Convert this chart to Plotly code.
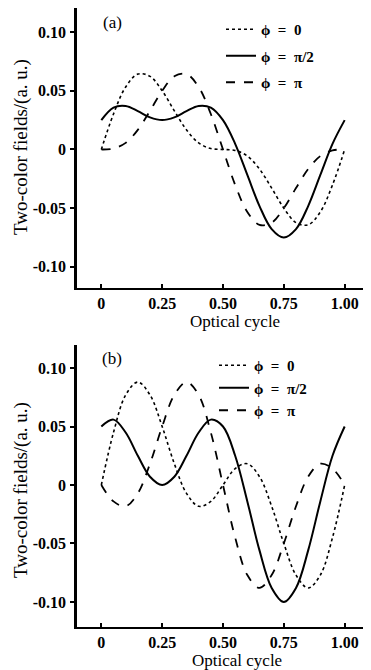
import plotly.graph_objects as go

# Optical cycle sample points
t = [0.00, 0.05, 0.10, 0.15, 0.20, 0.25, 0.30, 0.35, 0.40, 0.45, 0.50,
     0.55, 0.60, 0.65, 0.70, 0.75, 0.80, 0.85, 0.90, 0.95, 1.00]

# Panel (a) fields
a_phi0 = [0.0, 0.0302, 0.0532, 0.0642, 0.0623, 0.05, 0.0329, 0.0167, 0.0056, 0.0008, 0.0,
          -0.0008, -0.0056, -0.0167, -0.0329, -0.05, -0.0623, -0.0642, -0.0532, -0.0302, 0.0]
a_phi_half = [0.025, 0.0357, 0.0371, 0.0327, 0.0273, 0.025, 0.0273, 0.0327, 0.0371, 0.0357, 0.025,
              0.0048, -0.0217, -0.0482, -0.0678, -0.075, -0.0678, -0.0482, -0.0217, 0.0048, 0.025]
a_phi_pi = [0.0, 0.0008, 0.0056, 0.0167, 0.0329, 0.05, 0.0623, 0.0642, 0.0532, 0.0302, 0.0,
            -0.0302, -0.0532, -0.0642, -0.0623, -0.05, -0.0329, -0.0167, -0.0056, -0.0008, 0.0]

# Panel (b) fields
b_phi0 = [0.0, 0.0449, 0.0770, 0.0880, 0.0770, 0.05, 0.0182, -0.0071, -0.0182, -0.0140, 0.0,
          0.0140, 0.0182, 0.0071, -0.0182, -0.05, -0.0770, -0.0880, -0.0770, -0.0449, 0.0]
b_phi_half = [0.05, 0.0559, 0.0449, 0.025, 0.0071, 0.0, 0.0071, 0.025, 0.0449, 0.0559, 0.05,
              0.025, -0.0140, -0.0559, -0.0880, -0.1, -0.0880, -0.0559, -0.0140, 0.025, 0.05]
b_phi_pi = [0.0, -0.0140, -0.0182, -0.0071, 0.0182, 0.05, 0.0770, 0.0880, 0.0770, 0.0449, 0.0,
            -0.0449, -0.0770, -0.0880, -0.0770, -0.05, -0.0182, 0.0071, 0.0182, 0.0140, 0.0]

legend_names = ["<b>ϕ  =  0</b>", "<b>ϕ  =  π/2</b>", "<b>ϕ  =  π</b>"]
x_ticks = [0, 0.25, 0.5, 0.75, 1.0]
x_ticktext = ["0", "0.25", "0.50", "0.75", "1.00"]
y_ticks = [-0.10, -0.05, 0, 0.05, 0.10]
y_ticktext = ["-0.10", "-0.05", "0", "0.05", "0.10"]

OFF = 8  # page body margin of the browser
W, H = 371 - OFF, 670 - OFF
L, R = 77 - OFF, 2
PW = W - L - R

def py(p):
    return min(1.0, 1 - (p - OFF) / H)

def px(p):
    return (p - 77) / PW

FONT = "Liberation Serif"
fig = go.Figure()

dashes = ["dot", "solid", "dash"]
widths = [1.6, 2.0, 1.8]

for i, ys in enumerate([a_phi0, a_phi_half, a_phi_pi]):
    fig.add_trace(go.Scatter(x=t, y=ys, mode="lines", name=legend_names[i],
                             line=dict(color="black", dash=dashes[i], width=widths[i], shape="spline"),
                             xaxis="x", yaxis="y", legend="legend", legendgroup="a%d" % i))
for i, ys in enumerate([b_phi0, b_phi_half, b_phi_pi]):
    fig.add_trace(go.Scatter(x=t, y=ys, mode="lines", name=legend_names[i],
                             line=dict(color="black", dash=dashes[i], width=widths[i], shape="spline"),
                             xaxis="x2", yaxis="y2", legend="legend2", legendgroup="b%d" % i))

tickfont = dict(family=FONT, size=16, color="black", weight="bold")
xcommon = dict(range=[-0.1, 1.1], tickvals=x_ticks, ticktext=x_ticktext, ticks="inside",
               ticklen=4, tickwidth=2, tickcolor="black", showline=True, linecolor="black",
               linewidth=2, showgrid=False, zeroline=False, tickfont=tickfont, domain=[0, 1])
ycommon = dict(tickvals=y_ticks, ticktext=y_ticktext, ticks="outside",
               ticklen=4, tickwidth=2, tickcolor="black", showline=True, linecolor="black",
               linewidth=2.5, showgrid=False, zeroline=False, tickfont=tickfont, ticklabelstandoff=1)

legfont = dict(family=FONT, size=15, color="black")
fig.update_layout(
    width=W, height=H, margin=dict(l=L, r=R, t=0, b=0),
    paper_bgcolor="white", plot_bgcolor="white",
    xaxis=dict(anchor="y", **xcommon),
    yaxis=dict(anchor="x", domain=[py(288), py(8)], range=[-0.118, 0.1205], **ycommon),
    xaxis2=dict(anchor="y2", **xcommon),
    yaxis2=dict(anchor="x2", domain=[py(627), py(345)], range=[-0.1214, 0.1197], **ycommon),
    legend=dict(x=px(221), y=py(13), xanchor="left", yanchor="top",
                font=legfont, bgcolor="rgba(0,0,0,0)", tracegroupgap=4, itemwidth=30),
    legend2=dict(x=px(214), y=py(349), xanchor="left", yanchor="top",
                 font=legfont, bgcolor="rgba(0,0,0,0)", tracegroupgap=0, itemwidth=30),
    showlegend=True,
)

ann_font = dict(family=FONT, size=17, color="black")
title_font = dict(family=FONT, size=19, color="black")
anns = [
    dict(text="(a)", x=px(112), y=py(23), xref="paper", yref="paper", showarrow=False,
         font=ann_font, xanchor="center", yanchor="middle"),
    dict(text="(b)", x=px(112), y=py(358), xref="paper", yref="paper", showarrow=False,
         font=ann_font, xanchor="center", yanchor="middle"),
    dict(text="Optical cycle", x=px(235), y=py(322), xref="paper", yref="paper",
         showarrow=False, font=ann_font, xanchor="center", yanchor="middle"),
    dict(text="Optical cycle", x=px(237), y=py(660), xref="paper", yref="paper",
         showarrow=False, font=ann_font, xanchor="center", yanchor="middle"),
    dict(text="Two-color fields/(a. u.)", x=px(21), y=py(147), xref="paper", yref="paper",
         showarrow=False, font=title_font, textangle=-90, xanchor="center", yanchor="middle"),
    dict(text="Two-color fields/(a. u.)", x=px(21), y=py(490), xref="paper", yref="paper",
         showarrow=False, font=title_font, textangle=-90, xanchor="center", yanchor="middle"),
]
fig.update_layout(annotations=anns)

fig.write_html("out.html")
